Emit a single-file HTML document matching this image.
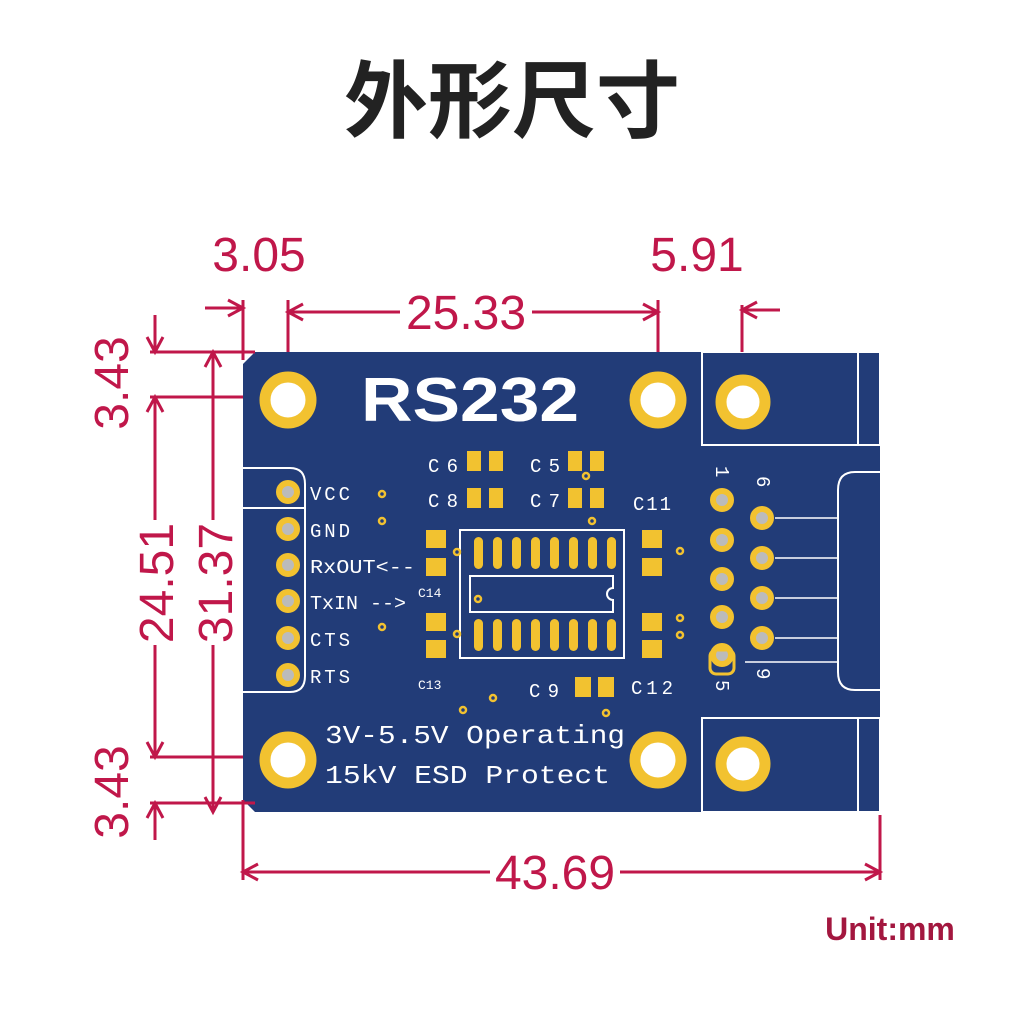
<!DOCTYPE html>
<html><head><meta charset="utf-8"><style>
html,body{margin:0;padding:0;background:#fff;width:1024px;height:1024px;overflow:hidden}
svg{display:block}
.d{stroke:#c0174a;stroke-width:3;fill:none}
.dt{fill:#c0174a;font-family:"Liberation Sans",sans-serif;font-size:48px}
.w{fill:#fff;font-family:"Liberation Mono",monospace}
.pad{fill:#f2c230}
</style></head><body>
<svg width="1024" height="1024" viewBox="0 0 1024 1024" xmlns="http://www.w3.org/2000/svg">
<text x="512" y="131" text-anchor="middle" font-family="'Liberation Sans','Noto Sans CJK SC',sans-serif" font-size="84" font-weight="bold" fill="#222">外形尺寸</text>

<path d="M255 352 H880 V812 H255 L243 800 V364 Z" fill="#223c78"/>
<g stroke="#fff" stroke-width="2" fill="none">
<rect x="702" y="352" width="178" height="93"/><line x1="858" y1="352" x2="858" y2="445"/>
<rect x="702" y="718" width="178" height="94"/><line x1="858" y1="718" x2="858" y2="812"/>
<path d="M880 472 H855 Q838 472 838 490 V672 Q838 690 855 690 H880"/>
<path d="M243 468 H290 Q305 468 305 484 V676 Q305 692 290 692 H243"/>
<line x1="243" y1="508" x2="305" y2="508"/>
<rect x="460" y="530" width="164" height="128"/>
<path d="M470 576 H613 V588 A6 6 0 0 0 613 600 V612 H470 Z"/>
<g stroke-width="1.5"><line x1="775" y1="518" x2="838" y2="518"/><line x1="775" y1="558" x2="838" y2="558"/><line x1="775" y1="598" x2="838" y2="598"/><line x1="775" y1="638" x2="838" y2="638"/><line x1="745" y1="662" x2="838" y2="662"/></g>
</g>
<g fill="#fff" stroke="#f2c230" stroke-width="11">
<circle cx="288" cy="400" r="23"/><circle cx="658" cy="400" r="23"/>
<circle cx="288" cy="760" r="23"/><circle cx="658" cy="760" r="23"/>
<circle cx="743" cy="402" r="22"/><circle cx="743" cy="764" r="22"/>
</g>
<g fill="#bbb" stroke="#f2c230" stroke-width="6">
<circle cx="288" cy="492" r="9"/><circle cx="288" cy="529" r="9"/><circle cx="288" cy="565" r="9"/><circle cx="288" cy="601" r="9"/><circle cx="288" cy="638" r="9"/><circle cx="288" cy="675" r="9"/>
<circle cx="722" cy="500" r="9"/><circle cx="722" cy="540" r="9"/><circle cx="722" cy="579" r="9"/><circle cx="722" cy="617" r="9"/><circle cx="722" cy="655" r="9"/>
<circle cx="762" cy="518" r="9"/><circle cx="762" cy="558" r="9"/><circle cx="762" cy="598" r="9"/><circle cx="762" cy="638" r="9"/>
</g>
<rect x="710" y="650" width="24" height="24" rx="6" fill="none" stroke="#f2c230" stroke-width="3"/>
<g fill="none" stroke="#f2c230" stroke-width="2.5">
<circle cx="382" cy="494" r="3"/><circle cx="382" cy="521" r="3"/><circle cx="382" cy="627" r="3"/>
<circle cx="592" cy="521" r="3"/><circle cx="586" cy="476" r="3"/><circle cx="457" cy="552" r="3"/><circle cx="478" cy="599" r="3"/><circle cx="457" cy="634" r="3"/>
<circle cx="680" cy="551" r="3"/><circle cx="680" cy="618" r="3"/><circle cx="680" cy="635" r="3"/>
<circle cx="493" cy="698" r="3"/><circle cx="463" cy="710" r="3"/><circle cx="606" cy="713" r="3"/>
</g>
<g class="pad">
<rect x="467" y="451" width="14" height="20"/><rect x="489" y="451" width="14" height="20"/>
<rect x="568" y="451" width="14" height="20"/><rect x="590" y="451" width="14" height="20"/>
<rect x="467" y="488" width="14" height="20"/><rect x="489" y="488" width="14" height="20"/>
<rect x="568" y="488" width="14" height="20"/><rect x="590" y="488" width="14" height="20"/>
<rect x="426" y="530" width="20" height="18"/><rect x="426" y="558" width="20" height="18"/>
<rect x="426" y="613" width="20" height="18"/><rect x="426" y="640" width="20" height="18"/>
<rect x="642" y="530" width="20" height="18"/><rect x="642" y="558" width="20" height="18"/>
<rect x="642" y="613" width="20" height="18"/><rect x="642" y="640" width="20" height="18"/>
<rect x="575" y="677" width="16" height="20"/><rect x="598" y="677" width="16" height="20"/>
</g>
<g class="pad">
<rect x="474" y="537" width="9" height="32" rx="4.5"/><rect x="493" y="537" width="9" height="32" rx="4.5"/><rect x="512" y="537" width="9" height="32" rx="4.5"/><rect x="531" y="537" width="9" height="32" rx="4.5"/><rect x="550" y="537" width="9" height="32" rx="4.5"/><rect x="569" y="537" width="9" height="32" rx="4.5"/><rect x="588" y="537" width="9" height="32" rx="4.5"/><rect x="607" y="537" width="9" height="32" rx="4.5"/>
<rect x="474" y="619" width="9" height="32" rx="4.5"/><rect x="493" y="619" width="9" height="32" rx="4.5"/><rect x="512" y="619" width="9" height="32" rx="4.5"/><rect x="531" y="619" width="9" height="32" rx="4.5"/><rect x="550" y="619" width="9" height="32" rx="4.5"/><rect x="569" y="619" width="9" height="32" rx="4.5"/><rect x="588" y="619" width="9" height="32" rx="4.5"/><rect x="607" y="619" width="9" height="32" rx="4.5"/>
</g>
<text x="470" y="421" text-anchor="middle" fill="#fff" font-family="'Liberation Sans',sans-serif" font-size="62" font-weight="bold" textLength="218" lengthAdjust="spacingAndGlyphs">RS232</text>
<g class="w" font-size="19">
<text x="310" y="500" textLength="40">VCC</text><text x="310" y="537" textLength="40">GND</text><text x="310" y="573" textLength="105" lengthAdjust="spacingAndGlyphs">RxOUT&lt;--</text><text x="310" y="609" textLength="96" lengthAdjust="spacingAndGlyphs">TxIN --&gt;</text><text x="310" y="646" textLength="40">CTS</text><text x="310" y="683" textLength="40">RTS</text>
<text x="428" y="472" textLength="30">C6</text><text x="530" y="472" textLength="30">C5</text><text x="428" y="507" textLength="30">C8</text><text x="530" y="507" textLength="30">C7</text>
<text x="633" y="510" textLength="38">C11</text><text x="529" y="697" textLength="30">C9</text><text x="631" y="694" textLength="42">C12</text>
</g>
<g class="w" font-size="13"><text x="418" y="597">C14</text><text x="418" y="689">C13</text></g>
<g class="w" font-size="26"><text x="325" y="743" textLength="300" lengthAdjust="spacingAndGlyphs">3V-5.5V Operating</text><text x="325" y="783" textLength="285" lengthAdjust="spacingAndGlyphs">15kV ESD Protect</text></g>
<g class="w" font-size="19">
<text transform="translate(716,466) rotate(90)">1</text><text transform="translate(757,476) rotate(90)">6</text>
<text transform="translate(757,668) rotate(90)">9</text><text transform="translate(716,680) rotate(90)">5</text>
</g>

<g class="d">
<line x1="243" y1="300" x2="243" y2="360"/><line x1="243" y1="800" x2="243" y2="880"/>
<line x1="205" y1="308" x2="243" y2="308"/><path d="M228 300 L243 308 L228 316"/>
<line x1="288" y1="300" x2="288" y2="352"/><line x1="658" y1="300" x2="658" y2="352"/>
<line x1="288" y1="312" x2="400" y2="312"/><line x1="532" y1="312" x2="658" y2="312"/>
<path d="M303 304 L288 312 L303 320"/><path d="M643 304 L658 312 L643 320"/>
<line x1="742" y1="305" x2="742" y2="352"/><line x1="742" y1="310" x2="780" y2="310"/><path d="M757 302 L742 310 L757 318"/>
<line x1="880" y1="815" x2="880" y2="880"/>
<line x1="243" y1="872" x2="490" y2="872"/><line x1="620" y1="872" x2="880" y2="872"/>
<path d="M258 864 L243 872 L258 880"/><path d="M865 864 L880 872 L865 880"/>
<line x1="150" y1="352" x2="255" y2="352"/><line x1="155" y1="315" x2="155" y2="352"/><path d="M147 337 L155 352 L163 337"/>
<line x1="150" y1="397" x2="243" y2="397"/>
<line x1="155" y1="397" x2="155" y2="520"/><line x1="155" y1="645" x2="155" y2="757"/>
<path d="M147 412 L155 397 L163 412"/><path d="M147 742 L155 757 L163 742"/>
<line x1="150" y1="757" x2="243" y2="757"/>
<line x1="213" y1="352" x2="213" y2="520"/><line x1="213" y1="645" x2="213" y2="812"/>
<path d="M205 367 L213 352 L221 367"/><path d="M205 797 L213 812 L221 797"/>
<line x1="150" y1="803" x2="255" y2="803"/><line x1="155" y1="803" x2="155" y2="840"/><path d="M147 818 L155 803 L163 818"/>
</g>
<g class="dt">
<text x="259" y="271" text-anchor="middle">3.05</text>
<text x="697" y="271" text-anchor="middle">5.91</text>
<text x="466" y="329" text-anchor="middle">25.33</text>
<text x="555" y="889" text-anchor="middle">43.69</text>
<text transform="translate(128,383) rotate(-90)" text-anchor="middle">3.43</text>
<text transform="translate(128,792) rotate(-90)" text-anchor="middle">3.43</text>
<text transform="translate(173,583) rotate(-90)" text-anchor="middle">24.51</text>
<text transform="translate(232,583) rotate(-90)" text-anchor="middle">31.37</text>
</g>
<text x="890" y="940" text-anchor="middle" fill="#a3173f" font-family="'Liberation Sans',sans-serif" font-size="32" font-weight="bold">Unit:mm</text>
</svg>
</body></html>
